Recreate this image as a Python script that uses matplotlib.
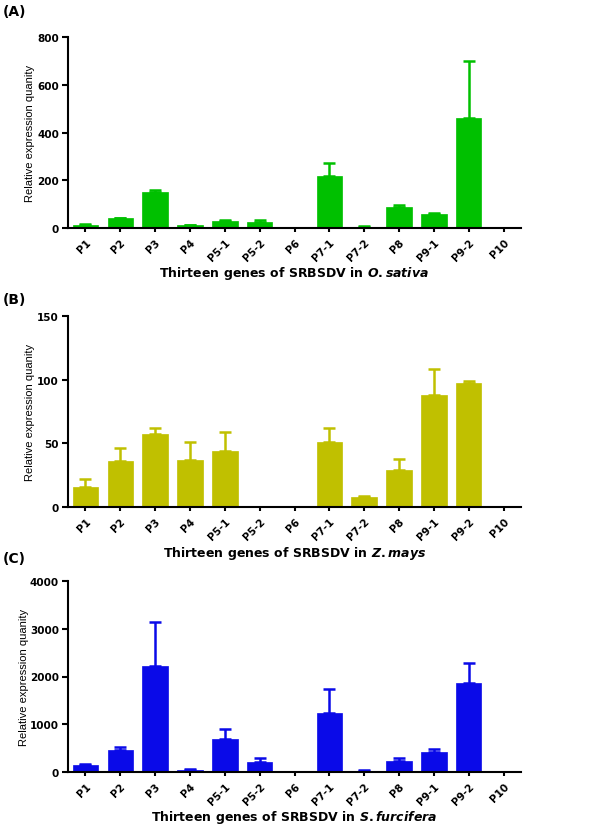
import matplotlib
matplotlib.use('Agg')
import matplotlib.pyplot as plt
import numpy as np

genes = ['P1', 'P2', 'P3', 'P4', 'P5-1', 'P5-2', 'P6', 'P7-1', 'P7-2', 'P8', 'P9-1', 'P9-2', 'P10']

osativa_mean = [14, 41, 151, 11, 31, 24, 0, 217, 5, 87, 58, 460, 1]
osativa_sd = [4, 2, 9, 3, 1, 9, 0, 55, 2, 11, 5, 240, 0]

zmays_mean = [16, 36, 57, 37, 44, 0, 1, 51, 8, 29, 88, 97, 1]
zmays_sd = [6, 10, 5, 14, 15, 0, 0, 11, 0.5, 9, 20, 2, 0]

sfurc_mean = [146, 452, 2229, 50, 688, 215, 15, 1243, 20, 222, 424, 1868, 0]
sfurc_sd = [28, 75, 917, 10, 208, 83, 0, 486, 20, 63, 48, 424, 0]

yticks_a = [0, 200, 400, 600, 800]
yticks_b = [0, 50, 100, 150]
yticks_c = [0, 1000, 2000, 3000, 4000]

panels = [
    ('(A)', osativa_mean, osativa_sd, '#00C000', yticks_a, 'O.sativa'),
    ('(B)', zmays_mean, zmays_sd, '#C0C000', yticks_b, 'Z.mays'),
    ('(C)', sfurc_mean, sfurc_sd, '#0A0AE8', yticks_c, 'S.furcifera'),
]

plt.rcParams['font.family'] = ['DejaVu Sans']
plt.rcParams['mathtext.fontset'] = 'custom'
plt.rcParams['mathtext.it'] = 'DejaVu Sans:italic:bold'
plt.rcParams['mathtext.rm'] = 'DejaVu Sans:bold'
plt.rcParams['mathtext.bf'] = 'DejaVu Sans:bold'

W, H = 600.0, 828.0
fig = plt.figure(figsize=(6, 8.28), dpi=100)

axes_bottoms_px = [229, 508, 773]
label_y_px = [12, 300, 559]
ylabel_x_px = [35, 35, 29]
ax_left_px, ax_right_px, ax_h_px = 68, 521, 191
ax_w_px = ax_right_px - ax_left_px

for (lab, mean, sd, color, yt, species), bpx, lpx, ylx in zip(panels, axes_bottoms_px, label_y_px, ylabel_x_px):
    ax = fig.add_axes([ax_left_px / W, (H - bpx) / H, ax_w_px / W, ax_h_px / H])
    x = np.arange(len(genes))
    mean = np.array(mean, dtype=float)
    sd = np.array(sd, dtype=float)
    ax.bar(x, mean, width=0.73, color=color, edgecolor=color, linewidth=0.5, zorder=2)
    m = sd > 0
    ax.errorbar(x[m], mean[m], yerr=[np.zeros(m.sum()), sd[m]], fmt='none',
                ecolor=color, elinewidth=1.8, capsize=4.2, capthick=1.8, zorder=1)
    ax.set_xlim(-0.5, 12.5)
    ax.set_ylim(0, yt[-1])
    ax.set_yticks(yt)
    ax.set_yticklabels([str(v) for v in yt], fontsize=7.5, fontweight='bold')
    ax.set_xticks(x)
    ax.set_xticklabels(genes, rotation=45, ha='right', va='top', rotation_mode='anchor',
                       fontsize=7.5, fontweight='bold')
    for s in ['top', 'right']:
        ax.spines[s].set_visible(False)
    for s in ['left', 'bottom']:
        ax.spines[s].set_linewidth(1.5)
    ax.tick_params(axis='y', length=4.5, width=1.5, pad=2)
    ax.tick_params(axis='x', length=3, width=1.5, pad=3)
    ax.set_ylabel('Relative expression quanity', fontfamily='Liberation Sans', fontsize=8)
    ax.yaxis.set_label_coords((ylx - ax_left_px) / ax_w_px, 0.5)
    ax.text(0.5, -45 / ax_h_px, 'Thirteen genes of SRBSDV in $\\mathit{' + species + '}$',
            transform=ax.transAxes, ha='center', va='center', fontsize=9, fontweight='bold')
    fig.text(3 / W, 1 - lpx / H, lab, ha='left', va='center', fontsize=10, fontweight='bold')

fig.savefig('out.png', dpi=100)
